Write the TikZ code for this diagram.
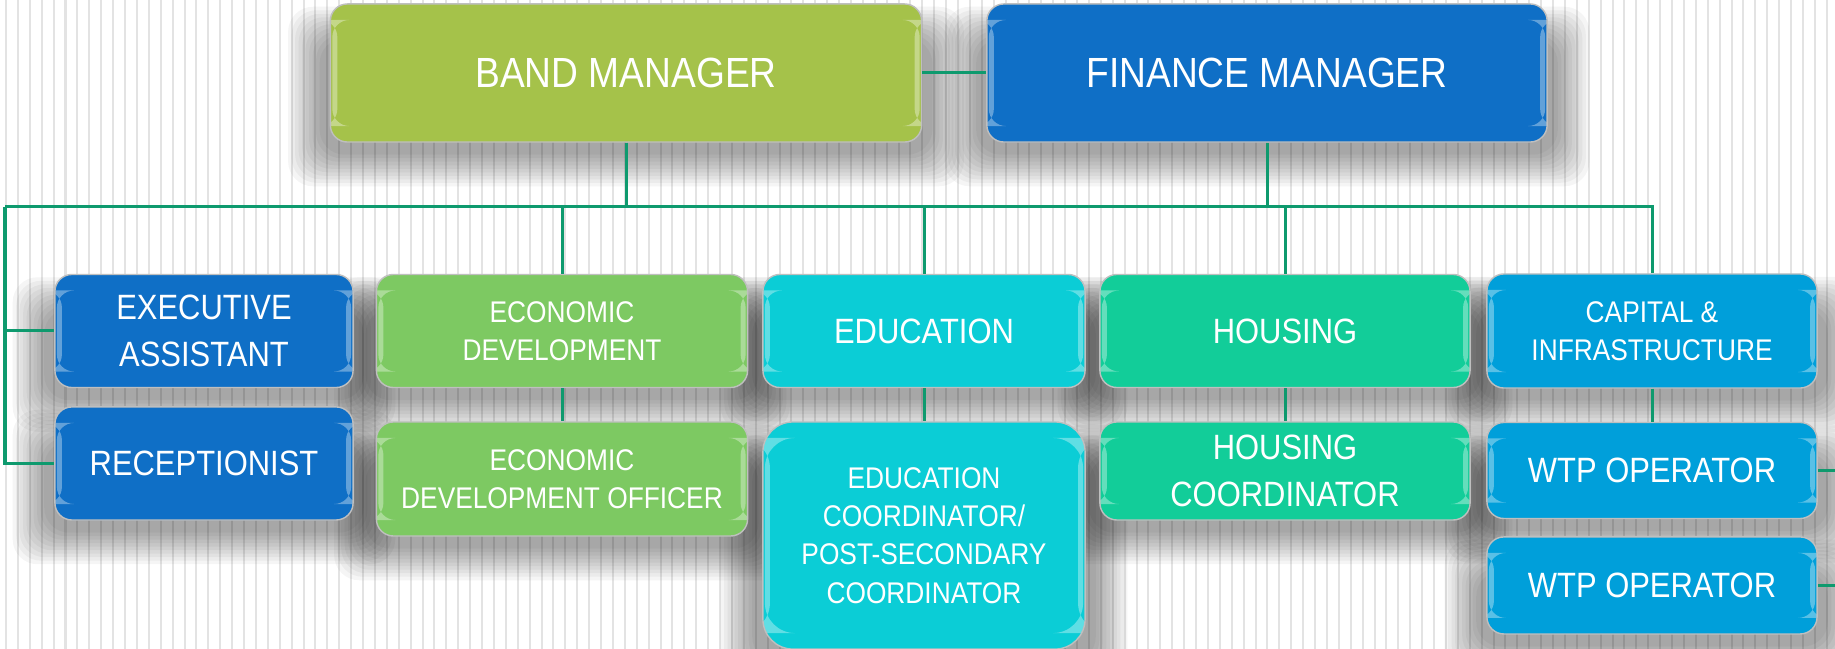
\documentclass[tikz,border=0pt]{standalone}
\usepackage{fontspec}
\setmainfont[FakeStretch=0.88]{Liberation Sans}
\usetikzlibrary{positioning,backgrounds}

\definecolor{bandgreen}{HTML}{A5C24A}
\definecolor{financeblue}{HTML}{0F6FC6}
\definecolor{econgreen}{HTML}{7DC962}
\definecolor{educyan}{HTML}{0BCDD6}
\definecolor{housegreen}{HTML}{12CD99}
\definecolor{capblue}{HTML}{009FDA}
\definecolor{linkgreen}{HTML}{0E9A6E}
\definecolor{rulegray}{HTML}{E3E3E3}

% soft drop shadow under a named node
\newcommand\dropshade[1]{%
  \foreach \k in {0,...,9}
    \fill[black, opacity=0.04, rounded corners=0.25cm]
      ([xshift={-0.1cm-0.035cm*\k}, yshift={-0.35cm+0.035cm*\k}]#1.north west)
      rectangle ([xshift={0.1cm+0.035cm*\k}, yshift={-0.12cm-0.035cm*\k}]#1.south east);}

\tikzset{
  rule/.style={draw=rulegray, line width=0.02cm},
  gloss/.style={path picture={
      \fill[white,opacity=0.35] ([xshift=0.02cm,yshift=-0.16cm]path picture bounding box.north west)
        rectangle ([xshift=0.07cm,yshift=0.16cm]path picture bounding box.south west);
      \fill[white,opacity=0.35] ([xshift=-0.02cm,yshift=-0.16cm]path picture bounding box.north east)
        rectangle ([xshift=-0.07cm,yshift=0.16cm]path picture bounding box.south east);}},
  box/.style={rounded corners=0.17cm, draw=black!25, line width=0.4pt, text=white,
    align=center, inner sep=0pt, gloss},
  link/.style={draw=linkgreen, line width=0.03cm},
  big/.style={font=\fontsize{12}{14}\selectfont},
  mid/.style={font=\fontsize{10}{13.3}\selectfont},
  small/.style={font=\fontsize{8.5}{10.9}\selectfont},
}

\begin{document}
\begin{tikzpicture}[x=0.01cm, y=-0.01cm]
  % backdrop
  \useasboundingbox (0,0) rectangle (1835,649);
  \begin{pgfonlayer}{background}
    \fill[white] (0,0) rectangle (1835,649);
    \foreach \i in {0,...,153}
      \draw[rule] ({6+11.9*\i},0) -- ++(0,649);
  \end{pgfonlayer}

  % managers
  \node[box, big, fill=bandgreen, minimum width=5.91cm, minimum height=1.38cm] (band) at (626,73) {BAND MANAGER};
  \node[box, big, fill=financeblue, minimum width=5.60cm, minimum height=1.38cm] (finance) at (1267,73) {FINANCE MANAGER};

  % departments
  \node[box, mid, fill=financeblue, minimum width=2.98cm, minimum height=1.13cm] (exec) at (204,331) {EXECUTIVE\\ASSISTANT};
  \node[box, mid, fill=financeblue, minimum width=2.98cm, minimum height=1.13cm, below=0.18cm of exec] (recep) {RECEPTIONIST};
  \node[box, small, fill=econgreen, minimum width=3.71cm, minimum height=1.13cm] (econ) at (562,331) {ECONOMIC\\DEVELOPMENT};
  \node[box, small, fill=econgreen, minimum width=3.71cm, minimum height=1.14cm, below=0.33cm of econ] (econofficer) {ECONOMIC\\DEVELOPMENT OFFICER};
  \node[box, mid, fill=educyan, minimum width=3.22cm, minimum height=1.13cm] (edu) at (924,331) {EDUCATION};
  \node[box, small, fill=educyan, rounded corners=0.3cm, minimum width=3.22cm, minimum height=2.27cm, below=0.33cm of edu] (educoord) {EDUCATION\\COORDINATOR/\\POST-SECONDARY\\COORDINATOR};
  \node[box, mid, fill=housegreen, minimum width=3.70cm, minimum height=1.13cm] (housing) at (1285,331) {HOUSING};
  \node[box, mid, fill=housegreen, minimum width=3.70cm, minimum height=0.98cm, below=0.33cm of housing] (housecoord) {HOUSING\\COORDINATOR};
  \node[box, small, fill=capblue, minimum width=3.30cm, minimum height=1.14cm] (capital) at (1652,331) {CAPITAL \&\\INFRASTRUCTURE};
  \node[box, mid, fill=capblue, minimum width=3.30cm, minimum height=0.96cm, below=0.33cm of capital] (wtpa) {WTP OPERATOR};
  \node[box, mid, fill=capblue, minimum width=3.30cm, minimum height=0.97cm, below=0.17cm of wtpa] (wtpb) {WTP OPERATOR};

  % shadows
  \begin{pgfonlayer}{background}
    \foreach \n in {band,finance,exec,recep,econ,econofficer,edu,educoord,housing,housecoord,capital,wtpa,wtpb}
      {\dropshade{\n}}
  \end{pgfonlayer}

  % connectors
  \coordinate (busL) at (5,207);
  \coordinate (edgeA) at ([xshift=0.2cm]wtpa.east);
  \coordinate (edgeB) at ([xshift=0.2cm]wtpb.east);
  \draw[link] (band) -- (finance);
  \draw[link] (band.south) -- (band.south |- busL);
  \draw[link] (finance.south) -- (finance.south |- busL);
  \draw[link] (busL) -- (capital.north |- busL) -- (capital.north);
  \draw[link] (busL) |- (exec.west);
  \draw[link] (busL) |- (recep.west);
  \draw[link] (econ.north |- busL) -- (econ.north);
  \draw[link] (edu.north |- busL) -- (edu.north);
  \draw[link] (housing.north |- busL) -- (housing.north);
  \draw[link] (econ.south) -- (econofficer.north);
  \draw[link] (edu.south) -- (educoord.north);
  \draw[link] (housing.south) -- (housecoord.north);
  \draw[link] (capital.south) -- (wtpa.north);
  \draw[link] (wtpa.east) -- (edgeA);
  \draw[link] (wtpb.east) -- (edgeB);
\end{tikzpicture}
\end{document}
